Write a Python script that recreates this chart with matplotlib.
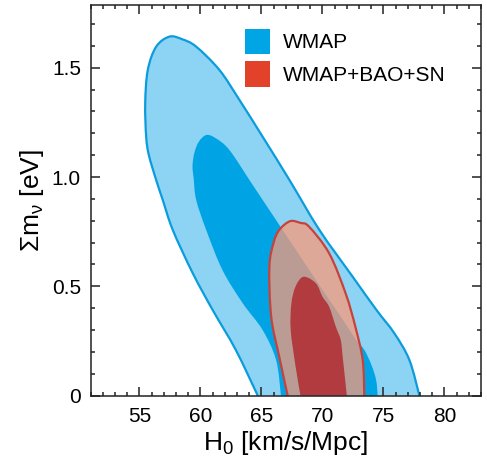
import matplotlib
matplotlib.use("Agg")
import matplotlib.pyplot as plt
from matplotlib.patches import Patch, PathPatch
from matplotlib.path import Path
from matplotlib.ticker import MultipleLocator

plt.rcParams['font.family'] = ['Liberation Sans', 'DejaVu Sans']
plt.rcParams['mathtext.fontset'] = 'custom'
plt.rcParams['mathtext.rm'] = 'Liberation Sans'
plt.rcParams['mathtext.it'] = 'Liberation Sans:italic'

# ---- data (H0 [km/s/Mpc], sum m_nu [eV]) ----
wmap95_h0 = [64.7, 62.9, 61.0, 59.37, 57.73, 56.91, 56.37, 55.77, 55.55, 55.47, 55.68,
             56.37, 57.46, 58.5, 59.65, 61.56, 63.2, 65.1, 67.3, 69.75,
             72.48, 74.43, 75.9, 77.13, 77.95]
wmap95_mnu = [0.0, 0.209, 0.392, 0.560, 0.758, 0.895, 0.986, 1.10, 1.184, 1.337, 1.489,
              1.596, 1.642, 1.63, 1.596, 1.489, 1.352, 1.184, 0.986, 0.758,
              0.544, 0.392, 0.285, 0.163, 0.0]

wmap68_h0 = [66.6, 66.2, 65.1, 63.47, 61.8, 60.47, 59.65, 59.45, 59.35, 59.5, 59.85,
             60.47, 61.23, 62.38, 64.29, 66.2, 68.11, 70.02, 71.8, 72.76, 73.44,
             74.02, 74.4, 74.53]
wmap68_mnu = [0.0, 0.163, 0.30, 0.4225, 0.575, 0.758, 0.895, 0.99, 1.05, 1.11, 1.16,
              1.192, 1.178, 1.123, 0.963, 0.803, 0.643, 0.483, 0.337, 0.255, 0.209,
              0.14, 0.072, 0.0]

all95_h0 = [67.15, 66.46, 65.8, 65.65, 66.0, 66.46, 67.35, 68.2, 68.9, 70.55,
            71.9, 72.7, 73.3, 73.43]
all95_mnu = [0.0, 0.178, 0.361, 0.59, 0.70, 0.758, 0.798, 0.79, 0.773, 0.651,
             0.468, 0.315, 0.163, 0.0]

all68_h0 = [68.2, 67.8, 67.4, 67.45, 67.8, 68.45, 69.47, 70.0, 70.55, 71.1,
            71.5, 71.66, 72.0]
all68_mnu = [0.0, 0.133, 0.30, 0.42, 0.50, 0.544, 0.514, 0.453, 0.407, 0.315,
             0.255, 0.178, 0.0]

series_labels = ['WMAP', 'WMAP+BAO+SN']
x_ticks = [55, 60, 65, 70, 75, 80]
y_ticks = [0, 0.5, 1.0, 1.5]
y_ticklabels = ['0', '0.5', '1.0', '1.5']


def smooth_path(xs, ys, closed):
    """Catmull-Rom curve through the read vertices, drawn as cubic Beziers."""
    pts = list(zip(xs, ys))
    n = len(pts)
    verts = [pts[0]]
    codes = [Path.MOVETO]
    for i in range(n - 1):
        p0 = pts[i - 1] if i > 0 else pts[i]
        p1 = pts[i]
        p2 = pts[i + 1]
        p3 = pts[i + 2] if i + 2 < n else pts[i + 1]
        c1 = (p1[0] + (p2[0] - p0[0]) / 6.0, p1[1] + (p2[1] - p0[1]) / 6.0)
        c2 = (p2[0] - (p3[0] - p1[0]) / 6.0, p2[1] - (p3[1] - p1[1]) / 6.0)
        verts += [c1, c2, p2]
        codes += [Path.CURVE4] * 3
    if closed:
        verts.append(pts[0])
        codes.append(Path.CLOSEPOLY)
    return Path(verts, codes)


fig = plt.figure(figsize=(4.87, 4.65), dpi=100)
ax = fig.add_axes([0.1862, 0.149, 0.8015, 0.840])

light_blue = '#8DD3F4'
dark_blue = '#00A4E4'
blue_line = '#0A9CDC'
red_fill = '#FA9A79'
red_line = '#C8423C'
red_dark = '#B13B3F'

ax.add_patch(PathPatch(smooth_path(wmap95_h0, wmap95_mnu, True),
                       facecolor=light_blue, edgecolor='none', zorder=1))
ax.add_patch(PathPatch(smooth_path(wmap95_h0, wmap95_mnu, False),
                       facecolor='none', edgecolor=blue_line, lw=1.6, zorder=1.5))
ax.add_patch(PathPatch(smooth_path(wmap68_h0, wmap68_mnu, True),
                       facecolor=dark_blue, edgecolor='none', zorder=2))
ax.add_patch(PathPatch(smooth_path(all95_h0, all95_mnu, True),
                       facecolor=red_fill, alpha=0.75, edgecolor='none', zorder=3))
ax.add_patch(PathPatch(smooth_path(all95_h0, all95_mnu, False),
                       facecolor='none', edgecolor=red_line, lw=1.6, zorder=4))
ax.add_patch(PathPatch(smooth_path(all68_h0, all68_mnu, True),
                       facecolor=red_dark, edgecolor='none', zorder=5))

ax.set_xlim(51, 83)
ax.set_ylim(0, 1.786)
ax.set_xticks(x_ticks)
ax.set_yticks(y_ticks)
ax.set_yticklabels(y_ticklabels)
ax.xaxis.set_minor_locator(MultipleLocator(1))
ax.yaxis.set_minor_locator(MultipleLocator(0.1))
ax.tick_params(which='both', direction='in', top=True, right=True, width=1.1,
               color='#222222', labelsize=15)
ax.tick_params(which='major', length=6.5)
ax.tick_params(which='minor', length=3.2)
ax.tick_params(axis='x', pad=8)
ax.tick_params(axis='y', pad=7)
for s in ax.spines.values():
    s.set_linewidth(1.1)
    s.set_color('#222222')
    s.set_zorder(10)

ax.set_xlabel(r'H$_0$ [km/s/Mpc]', fontsize=19, labelpad=2)
ax.set_ylabel(r'Σm$_\mathregular{ν}$ [eV]', fontsize=19, labelpad=4)

handles = [Patch(facecolor='#00A5E5', edgecolor='none'),
           Patch(facecolor='#E2412A', edgecolor='none')]
ax.legend(handles, series_labels, loc='upper left', bbox_to_anchor=(0.395, 0.94),
          frameon=False, fontsize=15, handlelength=1.23, handleheight=1.52,
          handletextpad=0.58, labelspacing=0.33, borderpad=0, borderaxespad=0)

fig.savefig('out.png', dpi=100)
